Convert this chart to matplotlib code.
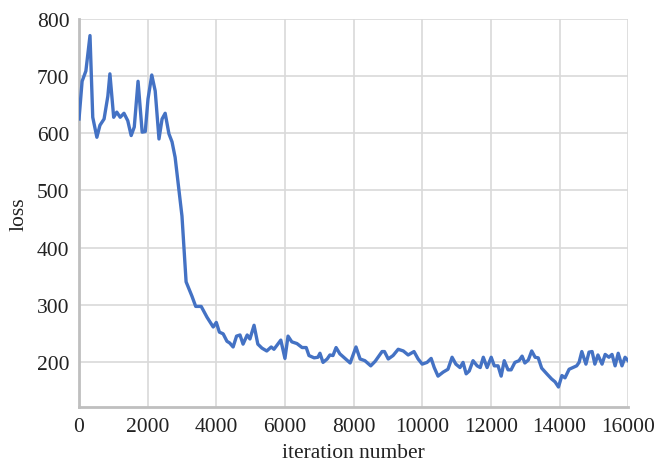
import matplotlib.pyplot as plt

# training loss
iteration = [0, 90, 200, 320, 400, 520, 610, 730, 840, 900, 1010, 1100, 1200, 1310,
             1420, 1520, 1610, 1720, 1840, 1930, 2010, 2120, 2220, 2330, 2420, 2510,
             2620, 2710, 2800, 3000, 3120, 3290, 3400, 3560, 3730, 3910, 4000, 4090,
             4200, 4310, 4390, 4490, 4590, 4690, 4780, 4900, 4980, 5100, 5210, 5330,
             5470, 5600, 5680, 5880, 6000, 6090, 6200, 6350, 6500, 6620, 6700, 6850,
             6960, 7020, 7110, 7230, 7310, 7400, 7490, 7600, 7750, 7900, 8070, 8190,
             8330, 8500, 8630, 8830, 8900, 9010, 9150, 9300, 9450, 9590, 9760, 9880,
             10000, 10140, 10260, 10350, 10460, 10610, 10750, 10870, 10980, 11100,
             11190, 11280, 11370, 11480, 11600, 11690, 11780, 11890, 12010, 12100,
             12210, 12300, 12390, 12500, 12590, 12700, 12820, 12910, 12990, 13090,
             13190, 13290, 13380, 13480, 13630, 13770, 13870, 13970, 14070, 14160,
             14280, 14390, 14500, 14570, 14650, 14770, 14860, 14950, 15030, 15120,
             15240, 15330, 15440, 15530, 15620, 15710, 15820, 15910, 16000]
loss = [625, 691, 709, 771, 628, 593, 614, 625, 665, 704, 628, 637, 628, 635,
        622, 596, 611, 691, 602, 603, 660, 702, 674, 590, 625, 635,
        599, 585, 558, 455, 340, 315, 297, 297, 278, 261, 269, 252,
        249, 236, 233, 226, 245, 247, 231, 247, 240, 264, 231, 224,
        219, 226, 222, 238, 206, 245, 235, 232, 225, 225, 211, 207,
        208, 215, 199, 205, 212, 211, 225, 214, 206, 198, 226, 205,
        202, 193, 201, 218, 218, 205, 211, 222, 219, 212, 218, 205,
        196, 199, 206, 190, 175, 182, 187, 208, 196, 190,
        199, 179, 184, 202, 193, 190, 208, 190, 208, 193,
        193, 175, 202, 186, 186, 199, 202, 210, 198, 203,
        219, 208, 207, 189, 179, 170, 165, 156, 176, 172,
        187, 190, 193, 199, 218, 196, 217, 218, 196, 212,
        196, 213, 208, 213, 193, 215, 193, 208, 202]

x_ticks = [0, 2000, 4000, 6000, 8000, 10000, 12000, 14000, 16000]
y_ticks = [200, 300, 400, 500, 600, 700, 800]

plt.rcParams['font.family'] = ['Liberation Serif', 'DejaVu Serif']

fig = plt.figure(figsize=(6.64, 4.77), dpi=100)
ax = fig.add_axes([0.119, 0.1447, 0.827, 0.8134])

ax.plot(iteration, loss, color='#4472C4', lw=2.4, zorder=3)

ax.set_xlim(0, 16000)
ax.set_ylim(121, 800)
ax.set_xticks(x_ticks)
ax.set_yticks(y_ticks)
ax.grid(True, color='#d9d9d9', lw=1.2)
ax.set_axisbelow(True)

for side in ['top', 'right']:
    ax.spines[side].set_visible(False)
for side in ['left', 'bottom']:
    ax.spines[side].set_color('#bfbfbf')
    ax.spines[side].set_linewidth(2)

ax.tick_params(length=0, labelsize=15.5, colors='#222222', pad=7)
ax.set_xlabel('iteration number', fontsize=15.5, color='#222222', labelpad=5)
ax.set_ylabel('loss', fontsize=15.5, color='#222222', labelpad=6)

fig.savefig('out.png', dpi=100)
